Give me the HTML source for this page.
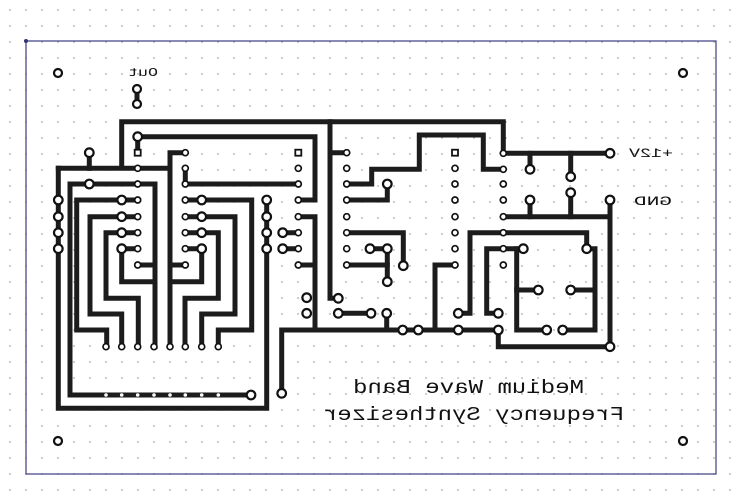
<!DOCTYPE html>
<html><head><meta charset="utf-8"><style>
html,body{margin:0;padding:0;background:#fff;}
svg{display:block;}
text{font-family:"Liberation Mono","DejaVu Sans Mono",monospace;fill:#111;}
</style></head><body>
<svg width="740" height="504" viewBox="0 0 740 504" xmlns="http://www.w3.org/2000/svg">
<defs>
<pattern id="g" x="10" y="10" width="16" height="16" patternUnits="userSpaceOnUse">
<circle cx="0" cy="0" r="0.9" fill="#aaa"/><circle cx="16" cy="0" r="0.9" fill="#aaa"/><circle cx="0" cy="16" r="0.9" fill="#aaa"/><circle cx="16" cy="16" r="0.9" fill="#aaa"/>
</pattern>
</defs>
<rect width="740" height="504" fill="#fff"/>
<rect width="740" height="504" fill="url(#g)"/>
<rect x="26" y="41" width="690" height="433" fill="none" stroke="#4a4a8a" stroke-width="1.3"/>
<circle cx="26" cy="41" r="2" fill="#33337a"/>

<g fill="none" stroke="#1c1c1c" stroke-width="5" stroke-linejoin="miter" stroke-linecap="square">
<!-- top outer -->
<polyline points="121.7,165 121.7,121.7 503.3,121.7 503.3,153.3 610,153.3"/>
<polyline points="58.3,168.3 170,168.3"/>
<polyline points="89.3,152.7 89.3,168.3"/>
<polyline points="58.3,168.3 58.3,408.3 266.7,408.3 266.7,200"/>
<polyline points="185,152.7 170,152.7 170,346.7"/>
<polyline points="170,265 185,265"/>
<polyline points="70,184 155,184 155,346.7"/>
<polyline points="155,265 137.7,265"/>
<polyline points="70,184 70,395 251,395"/>
<polyline points="137.7,136.7 315,136.7 315,200 298.3,200"/>
<polyline points="137.7,136.7 137.7,152.7"/>
<polyline points="185.3,168.3 185.3,184 298.3,184"/>
<polyline points="298.3,216.7 315,216.7 315,330"/>
<polyline points="298.3,265 315,265"/>
<polyline points="281.7,393.3 281.7,330 498.3,330"/>
<polyline points="282.7,232.7 298.3,232.7"/>
<polyline points="282.7,248.7 298.3,248.7"/>
<!-- left fan -->
<polyline points="121.7,200 76.7,200 76.7,330 106.7,330 106.7,346.7"/>
<polyline points="121.7,216.7 90,216.7 90,314 121.7,314 121.7,346.7"/>
<polyline points="121.7,232.7 106,232.7 106,298.3 138.3,298.3 138.3,346.7"/>
<polyline points="121.7,248.7 121.7,281.7 155,281.7"/>
<polyline points="121.7,200 137.7,200"/><polyline points="121.7,216.7 137.7,216.7"/><polyline points="121.7,232.7 137.7,232.7"/><polyline points="121.7,248.7 137.7,248.7"/>
<!-- right fan -->
<polyline points="201.7,200 251.7,200 251.7,330 218.3,330 218.3,346.7"/>
<polyline points="201.7,216.7 235,216.7 235,314 201.7,314 201.7,346.7"/>
<polyline points="201.7,232.7 218.3,232.7 218.3,298.3 185,298.3 185,346.7"/>
<polyline points="201.7,248.7 201.7,281.7 170,281.7"/>
<polyline points="185.3,200 201.7,200"/><polyline points="185.3,216.7 201.7,216.7"/><polyline points="185.3,232.7 201.7,232.7"/><polyline points="185.3,248.7 201.7,248.7"/>
<!-- middle -->
<polyline points="330,121.7 330,298.3 338.3,298.3"/>
<polyline points="330,152.7 346.7,152.7"/>
<polyline points="346.7,184 371.7,184 371.7,169.3 419.3,169.3 419.3,135 483.3,135 483.3,169.3 503.3,169.3"/>
<polyline points="346.7,200 387.3,200 387.3,184"/>
<polyline points="346.7,232.7 403.3,232.7 403.3,265.7"/>
<polyline points="370,248.7 387.3,248.7 387.3,281.7"/>
<polyline points="346.7,265 387.3,265"/>
<polyline points="338.3,313.3 371,313.3"/>
<polyline points="386.7,330 386.7,313.3"/>
<polyline points="435,330 435,265 455,265"/>
<polyline points="458.3,313.3 470,313.3 470,232.7 586.7,232.7 586.7,248.7"/>
<polyline points="498.3,313.3 486.7,313.3 486.7,248.7 523.3,248.7"/>
<polyline points="516.7,248.7 516.7,330 546.7,330"/>
<polyline points="516.7,290 538.3,290"/>
<polyline points="586.7,248.7 595,248.7 595,330 562.7,330"/>
<polyline points="570.7,290 595,290"/>
<polyline points="498.3,330 498.3,346.7 610,346.7 610,200"/>
<polyline points="503.3,216.7 608,216.7"/>
<polyline points="530,216.7 530,200"/>
<polyline points="570.7,216.7 570.7,192.7"/>
<polyline points="530,153.3 530,169.3"/>
<polyline points="570.7,153.3 570.7,176.7"/>
<polyline points="137,89 137,104"/>
</g>

<!-- large pads -->
<g fill="#fff" stroke="#111" stroke-width="2.2">
<circle cx="58" cy="73" r="4"/><circle cx="683" cy="73" r="4"/><circle cx="58" cy="441" r="4"/><circle cx="683" cy="441" r="4"/>
<circle cx="137" cy="89" r="4"/><circle cx="137" cy="104" r="4"/>
<circle cx="89.3" cy="152.7" r="4.3"/><circle cx="137.7" cy="136.7" r="4.3"/><circle cx="89.3" cy="184" r="4.3"/>
<circle cx="58.3" cy="200" r="4.3"/><circle cx="58.3" cy="216.7" r="4.3"/><circle cx="58.3" cy="232.7" r="4.3"/><circle cx="58.3" cy="248.7" r="4.3"/>
<circle cx="266.7" cy="200" r="4.3"/><circle cx="266.7" cy="216.7" r="4.3"/><circle cx="266.7" cy="232.7" r="4.3"/><circle cx="266.7" cy="248.7" r="4.3"/>
<circle cx="121.7" cy="200" r="4.3"/><circle cx="121.7" cy="216.7" r="4.3"/><circle cx="121.7" cy="232.7" r="4.3"/><circle cx="121.7" cy="248.7" r="4.3"/>
<circle cx="201.7" cy="200" r="4.3"/><circle cx="201.7" cy="216.7" r="4.3"/><circle cx="201.7" cy="232.7" r="4.3"/><circle cx="201.7" cy="248.7" r="4.3"/>
<circle cx="282.7" cy="232.7" r="4.3"/><circle cx="282.7" cy="248.7" r="4.3"/>
<circle cx="306.7" cy="297.7" r="4.3"/><circle cx="306.7" cy="313.3" r="4.3"/><circle cx="338.3" cy="298.3" r="4.3"/>
<circle cx="251" cy="395" r="4.3"/><circle cx="281.7" cy="393.3" r="4.3"/>
<circle cx="387.3" cy="184" r="4.3"/><circle cx="403.3" cy="265.7" r="4.3"/><circle cx="370" cy="248.7" r="4.3"/><circle cx="387.3" cy="248.7" r="4.3"/><circle cx="387.3" cy="281.7" r="4.3"/>
<circle cx="338.3" cy="313.3" r="4.3"/><circle cx="371" cy="313.3" r="4.3"/><circle cx="386.7" cy="313.3" r="4.3"/>
<circle cx="402.7" cy="330" r="4.3"/><circle cx="418.3" cy="330" r="4.3"/><circle cx="458.3" cy="330" r="4.3"/><circle cx="498.3" cy="330" r="4.3"/>
<circle cx="458.3" cy="313.3" r="4.3"/><circle cx="498.3" cy="313.3" r="4.3"/>
<circle cx="523.3" cy="248.7" r="4.3"/><circle cx="586.7" cy="248.7" r="4.3"/><circle cx="538.3" cy="290" r="4.3"/><circle cx="570.7" cy="290" r="4.3"/>
<circle cx="546.7" cy="330" r="4.3"/><circle cx="562.7" cy="330" r="4.3"/><circle cx="610" cy="346.7" r="4.3"/>
<circle cx="610" cy="153.3" r="4.3"/><circle cx="610" cy="200" r="4.3"/><circle cx="530" cy="169.3" r="4.3"/><circle cx="570.7" cy="176.7" r="4.3"/><circle cx="530" cy="200" r="4.3"/><circle cx="570.7" cy="192.7" r="4.3"/>
</g>
<!-- small pads (IC columns and rows) -->
<g fill="#fff" stroke="#111" stroke-width="1.7">
<circle cx="137.7" cy="168.3" r="3"/><circle cx="137.7" cy="184" r="3"/><circle cx="137.7" cy="200" r="3"/><circle cx="137.7" cy="216.7" r="3"/><circle cx="137.7" cy="232.7" r="3"/><circle cx="137.7" cy="248.7" r="3"/><circle cx="137.7" cy="265" r="3"/>
<circle cx="185.3" cy="152.7" r="3"/><circle cx="185.3" cy="168.3" r="3"/><circle cx="185.3" cy="184" r="3"/><circle cx="185.3" cy="200" r="3"/><circle cx="185.3" cy="216.7" r="3"/><circle cx="185.3" cy="232.7" r="3"/><circle cx="185.3" cy="248.7" r="3"/><circle cx="185.3" cy="265" r="3"/>
<circle cx="298.3" cy="168.3" r="3"/><circle cx="298.3" cy="184" r="3"/><circle cx="298.3" cy="200" r="3"/><circle cx="298.3" cy="216.7" r="3"/><circle cx="298.3" cy="232.7" r="3"/><circle cx="298.3" cy="248.7" r="3"/><circle cx="298.3" cy="265" r="3"/>
<circle cx="346.7" cy="152.7" r="3"/><circle cx="346.7" cy="168.3" r="3"/><circle cx="346.7" cy="184" r="3"/><circle cx="346.7" cy="200" r="3"/><circle cx="346.7" cy="216.7" r="3"/><circle cx="346.7" cy="232.7" r="3"/><circle cx="346.7" cy="248.7" r="3"/><circle cx="346.7" cy="265" r="3"/>
<circle cx="455" cy="168.3" r="3"/><circle cx="455" cy="184" r="3"/><circle cx="455" cy="200" r="3"/><circle cx="455" cy="216.7" r="3"/><circle cx="455" cy="232.7" r="3"/><circle cx="455" cy="248.7" r="3"/><circle cx="455" cy="265" r="3"/>
<circle cx="503.3" cy="153.3" r="3"/><circle cx="503.3" cy="169.3" r="3"/><circle cx="503.3" cy="184" r="3"/><circle cx="503.3" cy="200" r="3"/><circle cx="503.3" cy="216.7" r="3"/><circle cx="503.3" cy="232.7" r="3"/><circle cx="503.3" cy="248.7" r="3"/><circle cx="503.3" cy="265" r="3"/>
<circle cx="106" cy="346.7" r="3"/><circle cx="121.7" cy="346.7" r="3"/><circle cx="137.7" cy="346.7" r="3"/><circle cx="154" cy="346.7" r="3"/><circle cx="170" cy="346.7" r="3"/><circle cx="185.3" cy="346.7" r="3"/><circle cx="201.7" cy="346.7" r="3"/><circle cx="218.3" cy="346.7" r="3"/>
</g>
<g fill="#fff">
<circle cx="106" cy="395" r="1.8"/><circle cx="121.7" cy="395" r="1.8"/><circle cx="137.7" cy="395" r="1.8"/><circle cx="154" cy="395" r="1.8"/><circle cx="170" cy="395" r="1.8"/><circle cx="185.3" cy="395" r="1.8"/><circle cx="201.7" cy="395" r="1.8"/><circle cx="218.3" cy="395" r="1.8"/>
</g>
<g fill="#fff" stroke="#111" stroke-width="1.8">
<rect x="134.7" y="149.7" width="6" height="6"/><rect x="295.3" y="149.7" width="6" height="6"/><rect x="452" y="149.7" width="6" height="6"/>
</g>

<g transform="scale(-1,1)">
<text x="-158" y="76" font-size="12" textLength="30" lengthAdjust="spacingAndGlyphs">Out</text>
<text x="-673" y="157" font-size="13" textLength="44" lengthAdjust="spacingAndGlyphs">+12V</text>
<text x="-672" y="205" font-size="13" textLength="38" lengthAdjust="spacingAndGlyphs">GND</text>
<text x="-584" y="393" font-size="19" textLength="231" lengthAdjust="spacingAndGlyphs">Medium Wave Band</text>
<text x="-624" y="420" font-size="19" textLength="301" lengthAdjust="spacingAndGlyphs">Frequency Synthesizer</text>
</g>
</svg>
</body></html>
